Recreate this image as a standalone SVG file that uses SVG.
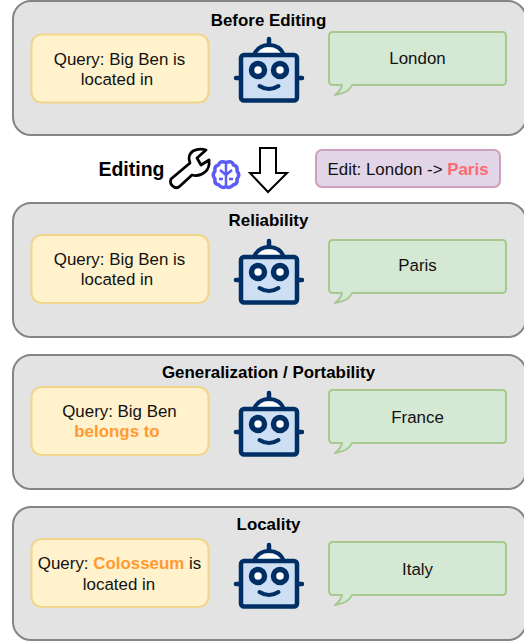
<svg xmlns="http://www.w3.org/2000/svg" xmlns:xlink="http://www.w3.org/1999/xlink" width="524" height="641" viewBox="0 0 524 641">
<style>
text{font-family:"Liberation Sans",Arial,sans-serif;font-size:16.900px;fill:#111;text-anchor:middle}
.t{font-weight:bold;fill:#000}
.panel{fill:#e3e3e3;stroke:#858585;stroke-width:2}
.query{fill:#fff2cc;stroke:#f0d68c;stroke-width:2}
.bubble{fill:#d5e8d4;stroke:#a6c98f;stroke-width:2;stroke-linejoin:round}
.o{font-weight:bold;fill:#ff9a33}
</style>
<defs>
<g id="robot">
<path d="M254 55Q258 45 269 45Q280 45 284 55Z" fill="#fff" stroke="#002f66" stroke-width="4"/>
<line x1="269" y1="39" x2="269" y2="45" stroke="#002f66" stroke-width="4.500" stroke-linecap="round"/>
<line x1="236" y1="78" x2="302" y2="78" stroke="#002f66" stroke-width="4.500" stroke-linecap="round"/>
<rect x="241" y="55" width="56" height="45.500" rx="3" fill="#cfdff3" stroke="#002f66" stroke-width="4.500"/>
<circle cx="258" cy="70" r="6.500" fill="#fff" stroke="#002f66" stroke-width="5.500"/>
<circle cx="280" cy="70" r="6.500" fill="#fff" stroke="#002f66" stroke-width="5.500"/>
<path d="M259.500 86Q269 92 278.500 86" fill="none" stroke="#002f66" stroke-width="4" stroke-linecap="round"/>
</g>
<path id="speech" class="bubble" d="M333 32H502Q506 32 506 36V81Q506 85 502 85H352Q349 93 335 95Q341 91 342 85H333Q329 85 329 81V36Q329 32 333 32Z"/>
</defs>
<g id="before">
<rect class="panel" x="13" y="1" width="513" height="134" rx="18"/>
<text class="t" x="268.500" y="26">Before Editing</text>
<rect class="query" x="31.500" y="34.500" width="177" height="68" rx="10"/>
<text x="119.500" y="64.500">Query: Big Ben is</text><text x="117" y="85">located in</text>
<use xlink:href="#robot"/>
<use xlink:href="#speech"/>
<text x="417.500" y="64">London</text>
</g>
<g id="editing">
<text class="t" x="131.500" y="175.500" style="font-size:19.500px">Editing</text>
<path d="M174 187Q169 184 171 179L190 163Q187 155 193 151Q199 148 206 150L197 158L201 165L209 160Q210 168 205 172Q199 177 192 175L180 186Q177 189 174 187Z" fill="#fff" stroke="#000" stroke-width="2.800" stroke-linejoin="round"/>
<g fill="#fff" stroke="#5b5bf5" stroke-width="3.500" stroke-linejoin="round">
<path d="M226 162.500Q220 160 218.500 165Q214 166 215 171Q211.500 175 215 179Q214 184 219 185Q222 189 226 186.500Q230 189 233 185Q238 184 237 179Q240.500 175 237 171Q238 166 233.500 165Q232 160 226 162.500Z"/>
<path d="M226 162V187M220 170L226 175L232 170M219 179H223M233 179H229" fill="none" stroke-width="2.500"/>
</g>
<path d="M260 148H276V173H287L268 192L250 173H260Z" fill="#fff" stroke="#000" stroke-width="2" stroke-linejoin="miter"/>
</g>
<g id="edit">
<rect x="316" y="150" width="184" height="37" rx="6" fill="#e1d5e7" stroke="#cf9fbd" stroke-width="2"/>
<text x="408" y="175">Edit: London -&gt; <tspan font-weight="bold" fill="#ff6a6f">Paris</tspan></text>
</g>
<g id="reliability">
<rect class="panel" x="13" y="203" width="513" height="134" rx="18"/>
<text class="t" x="268.500" y="226">Reliability</text>
<rect class="query" x="31.500" y="235" width="177" height="68" rx="10"/>
<text x="119.500" y="264.500">Query: Big Ben is</text><text x="117" y="285">located in</text>
<use xlink:href="#robot" y="202"/>
<use xlink:href="#speech" y="208"/>
<text x="417.500" y="271">Paris</text>
</g>
<g id="generalization">
<rect class="panel" x="13" y="355" width="513" height="134" rx="18"/>
<text class="t" x="268.500" y="378">Generalization / Portability</text>
<rect class="query" x="31.500" y="387" width="177" height="68" rx="10"/>
<text x="119.500" y="416.500">Query: Big Ben</text><text class="o" x="117" y="437">belongs to</text>
<use xlink:href="#robot" y="354"/>
<use xlink:href="#speech" y="358"/>
<text x="417.500" y="423">France</text>
</g>
<g id="locality">
<rect class="panel" x="13" y="507" width="513" height="133" rx="18"/>
<text class="t" x="268.500" y="530">Locality</text>
<rect class="query" x="31.500" y="539" width="177" height="68" rx="10"/>
<text x="119.500" y="569">Query: <tspan class="o">Colosseum</tspan> is</text><text x="119" y="589.500">located in</text>
<use xlink:href="#robot" y="506"/>
<use xlink:href="#speech" y="510"/>
<text x="417.500" y="575">Italy</text>
</g>
</svg>
